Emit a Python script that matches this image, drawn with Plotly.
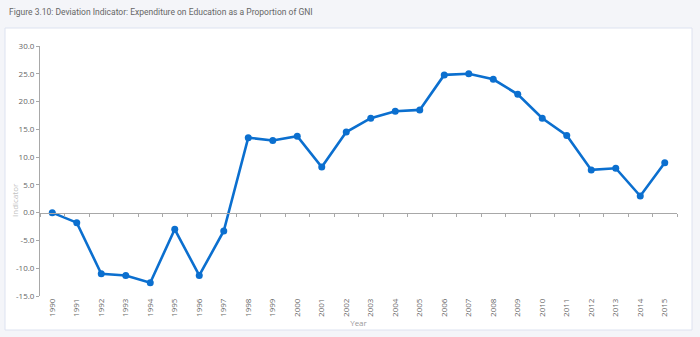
import plotly.graph_objects as go

years = [str(y) for y in range(1990, 2016)]
values = [0.0, -1.8, -11.0, -11.3, -12.6, -3.0, -11.3, -3.3, 13.5, 13.0, 13.75, 8.2,
          14.5, 17.0, 18.25, 18.5, 24.8, 25.0, 24.0, 21.3, 17.0, 13.9, 7.7, 8.0, 3.0, 9.0]
y_tickvals = [-15, -10, -5, 0, 5, 10, 15, 20, 25, 30]
y_ticktext = ["-15.0", "-10.0", "-5.0", "0.0", "5.0", "10.0", "15.0", "20.0", "25.0", "30.0"]

title = "Figure 3.10: Deviation Indicator: Expenditure on Education as a Proportion of GNI"
font_family = "Open Sans"
title_family = "Roboto"
line_color = "#0b6fcf"
axis_color = "#a8a8a8"
text_color = "#666666"

fig = go.Figure()
fig.add_trace(go.Scatter(x=years, y=values, mode="lines+markers",
                         line=dict(color=line_color, width=2.6),
                         marker=dict(color=line_color, size=7),
                         xaxis="x", yaxis="y", hoverinfo="skip", showlegend=False))
fig.add_trace(go.Scatter(x=years, y=values, mode="markers", marker=dict(opacity=0),
                         xaxis="x2", yaxis="y", hoverinfo="skip", showlegend=False))

xr = [-0.5, len(years) - 0.5]
fig.update_layout(
    width=700, height=337,
    margin=dict(l=40, r=23, t=46, b=41),
    paper_bgcolor="#f4f5f9", plot_bgcolor="rgba(0,0,0,0)",
    font=dict(family=font_family, color=text_color, size=8),
    xaxis=dict(type="category", range=xr, anchor="free", position=1/3, showline=True,
               linecolor=axis_color, linewidth=1, ticks="outside", ticklen=3,
               tickcolor=axis_color, tickson="boundaries", showticklabels=False,
               showgrid=False, zeroline=False),
    xaxis2=dict(type="category", range=xr, overlaying="x", anchor="y", side="bottom",
                showline=False, ticks="", showticklabels=True, tickangle=-90,
                tickfont=dict(size=8, color=text_color), showgrid=False, zeroline=False,
                title=dict(text="Year", font=dict(size=8, color="#999999"), standoff=2)),
    yaxis=dict(range=[-15, 30], tickvals=y_tickvals, ticktext=y_ticktext,
               showline=True, linecolor=axis_color, linewidth=1, ticks="outside",
               ticklen=3, tickcolor=axis_color, showgrid=False, zeroline=False,
               tickfont=dict(size=8, color=text_color)),
    shapes=[dict(type="rect", xref="paper", yref="paper", layer="below",
                 x0=-35/637, x1=(692-40)/637, y0=-(330-296)/250, y1=(296-28)/250,
                 fillcolor="white", line=dict(color="#dde2f0", width=1))],
    annotations=[
        dict(text=title, xref="paper", yref="paper", x=-33/637, y=(296-12)/250,
             xanchor="left", yanchor="middle", showarrow=False,
             font=dict(size=8.5, color="#666666", family=title_family)),
        dict(text="Indicator", xref="paper", yref="paper", x=-26/637, y=(296-200)/250,
             xanchor="center", yanchor="middle", textangle=-90, showarrow=False,
             font=dict(size=8, color="#c0c0c0", family=font_family)),
    ],
)

fig.write_html("out.html")
